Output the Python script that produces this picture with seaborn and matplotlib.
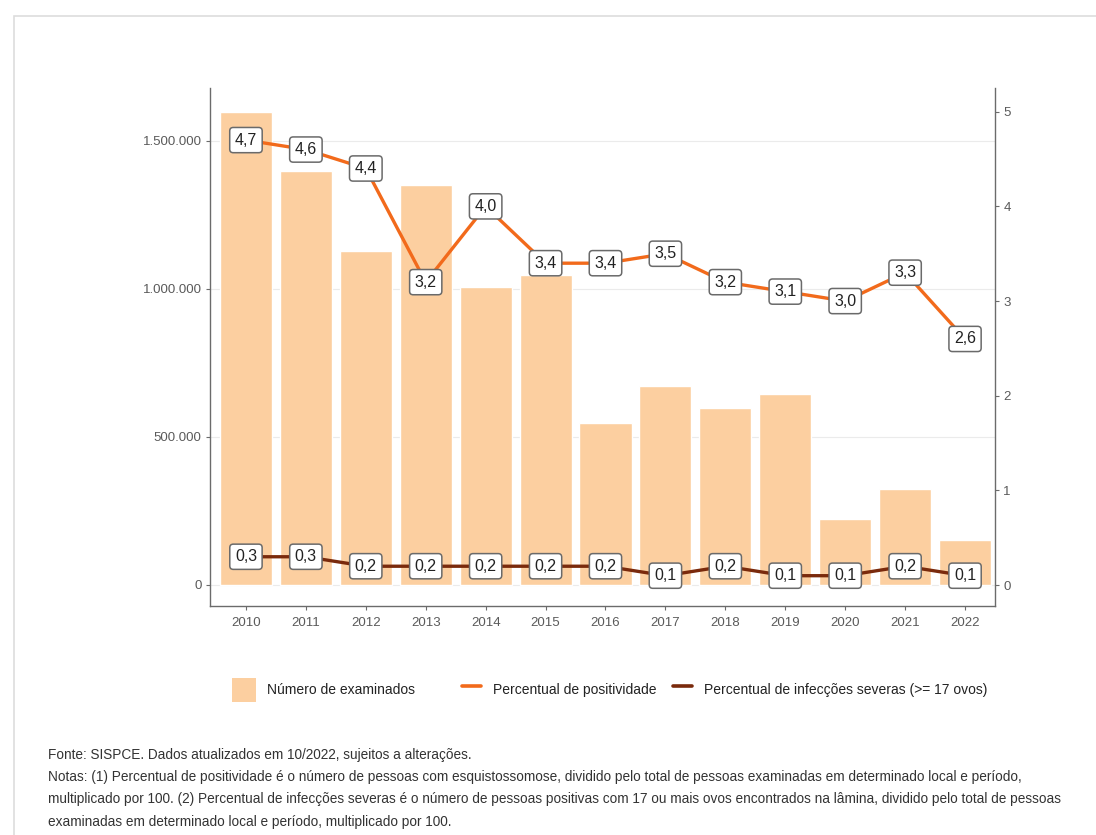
import numpy as np
import pandas as pd
import matplotlib
matplotlib.use("Agg")
import matplotlib.pyplot as plt
import seaborn as sns
from matplotlib.patches import Rectangle, Patch
from matplotlib.lines import Line2D
from matplotlib.ticker import FuncFormatter

years = ["2010", "2011", "2012", "2013", "2014", "2015", "2016",
         "2017", "2018", "2019", "2020", "2021", "2022"]
examinados = [1598000, 1399000, 1128000, 1351000, 1007000, 1047000, 547000,
              672000, 598000, 645000, 223000, 324000, 152000]
positividade = [4.7, 4.6, 4.4, 3.2, 4.0, 3.4, 3.4, 3.5, 3.2, 3.1, 3.0, 3.3, 2.6]
severas = [0.3, 0.3, 0.2, 0.2, 0.2, 0.2, 0.2, 0.1, 0.2, 0.1, 0.1, 0.2, 0.1]

left_ticks = [0, 500000, 1000000, 1500000]
right_ticks = [0, 1, 2, 3, 4, 5]

legend_labels = ["Número de examinados", "Percentual de positividade",
                 "Percentual de infecções severas (>= 17 ovos)"]
fonte = "Fonte: SISPCE. Dados atualizados em 10/2022, sujeitos a alterações."
notas = ["Notas: (1) Percentual de positividade é o número de pessoas com esquistossomose, dividido pelo total de pessoas examinadas em determinado local e período,",
         "multiplicado por 100. (2) Percentual de infecções severas é o número de pessoas positivas com 17 ou mais ovos encontrados na lâmina, dividido pelo total de pessoas",
         "examinadas em determinado local e período, multiplicado por 100."]

bar_color = "#FCCFA0"
pos_color = "#F26A1B"
sev_color = "#7A2A0C"

sns.set_theme(style="white")
plt.rcParams["font.family"] = ["Liberation Sans", "DejaVu Sans"]

fig = plt.figure(figsize=(10.96, 8.35), dpi=100)
fig.patch.set_facecolor("white")
# outer frame
fig.patches.append(Rectangle((14 / 1096, -0.01), 1.1, 1 - 16 / 835 + 0.01,
                             transform=fig.transFigure, fill=False,
                             edgecolor="#dddddd", linewidth=1.2))

ax = fig.add_axes([210 / 1096, 1 - 606 / 835, (995 - 210) / 1096, (606 - 88) / 835])
df = pd.DataFrame({"ano": years, "exam": examinados, "pos": positividade, "sev": severas})

sns.barplot(data=df, x="ano", y="exam", color=bar_color, width=0.87,
            saturation=1, ax=ax, zorder=2)
ax.set_ylim(-71000, 1679000)
ax.set_yticks(left_ticks)
ax.yaxis.set_major_formatter(FuncFormatter(lambda v, p: f"{int(v):,}".replace(",", ".")))
ax.grid(axis="y", color="#ebebeb", linewidth=0.8, zorder=0)
ax.set_axisbelow(True)
ax.set_xlabel("")
ax.set_ylabel("")

ax2 = ax.twinx()
sns.pointplot(data=df, x="ano", y="pos", color=pos_color, markers="",
              linewidth=2.4, ax=ax2, zorder=3)
sns.pointplot(data=df, x="ano", y="sev", color=sev_color, markers="",
              linewidth=2.4, ax=ax2, zorder=3)
ax2.set_ylim(-0.22, 5.25)
ax2.set_yticks(right_ticks)
ax2.set_xlim(-0.6, 12.5)
ax.set_xlim(-0.6, 12.5)
ax2.set_ylabel("")
ax2.grid(False)

box = dict(boxstyle="round,pad=0.32,rounding_size=0.22", facecolor="white",
           edgecolor="#6a6a6a", linewidth=1.1)
for i, (p, s) in enumerate(zip(positividade, severas)):
    ax2.text(i, p, f"{p:.1f}".replace(".", ","), ha="center", va="center",
             fontsize=11.5, color="#222222", bbox=box, zorder=5)
    ax2.text(i, s, f"{s:.1f}".replace(".", ","), ha="center", va="center",
             fontsize=11.5, color="#222222", bbox=box, zorder=5)

for a in (ax, ax2):
    a.spines["top"].set_visible(False)
    for side in ("left", "right", "bottom"):
        a.spines[side].set_color("#6b6b6b")
        a.spines[side].set_linewidth(1.0)
    a.tick_params(axis="both", which="both", length=3, width=0.8, color="#6b6b6b",
                  labelsize=9.5, labelcolor="#5a5a5a", pad=3)
    a.tick_params(axis="x", length=3, direction="out", bottom=True)
    a.tick_params(axis="y", left=(a is ax), right=(a is ax2))
ax.spines["right"].set_visible(False)
ax2.spines["left"].set_visible(False)
ax2.spines["bottom"].set_visible(False)
ax.tick_params(axis="x", pad=5)

# legend: three single-entry legends placed like the reference
handles = [Patch(facecolor=bar_color, edgecolor="none"),
           Line2D([0], [0], color=pos_color, linewidth=2.6),
           Line2D([0], [0], color=sev_color, linewidth=2.6)]
lefts = [232, 462, 673]
hl = [1.7, 1.4, 1.4]
for h, lab, x0, l in zip(handles, legend_labels, lefts, hl):
    fig.legend([h], [lab], loc="center left", bbox_to_anchor=(x0 / 1096, 1 - 690 / 835),
               frameon=False, fontsize=10, handlelength=l, handleheight=2.2,
               handletextpad=0.8, labelcolor="#222222", borderpad=0, borderaxespad=0)

foot_font = ["Liberation Sans Narrow", "Liberation Sans", "DejaVu Sans"]
fig.text(48 / 1096, 1 - 755 / 835, fonte, fontsize=9.8, color="#333333",
         va="center", ha="left", family=foot_font)
for k, line in enumerate(notas):
    fig.text(48 / 1096, 1 - (777 + 22.5 * k) / 835, line, fontsize=9.8, color="#333333",
             va="center", ha="left", family=foot_font)

fig.savefig("out.png", dpi=100, facecolor="white")
